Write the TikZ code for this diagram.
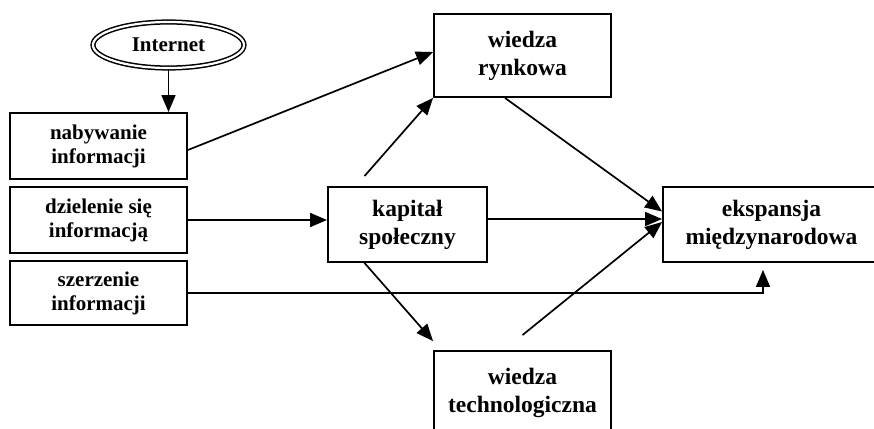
\documentclass[tikz,border=0pt]{standalone}
\usepackage{fontspec}
\setmainfont{Liberation Serif}
\usetikzlibrary{arrows.meta,shapes.geometric}
\begin{document}
\begin{tikzpicture}[x=1pt,y=-1pt,
  box/.style={draw,line width=1.9pt,rectangle,align=center,inner sep=0pt,
    font=\bfseries\fontsize{23.5}{28}\selectfont},
  smallbox/.style={box,font=\bfseries\fontsize{21}{24}\selectfont},
  conn/.style={line width=1.7pt,-{Triangle[length=17pt,width=14pt]}}]
\useasboundingbox (0,0) rectangle (874,428);

% source node
\node[draw,ellipse,line width=1.5pt,double,double distance=2.2pt,inner sep=0pt,
  minimum width=151pt,minimum height=46pt,
  font=\bfseries\fontsize{21}{24}\selectfont] (inet) at (168.5,45) {Internet};

% information activities
\node[smallbox,minimum width=177pt,minimum height=66pt] (nab) at (98.5,146) {nabywanie\\informacji};
\node[smallbox,minimum width=177pt,minimum height=66pt] (dz) at (98.5,220) {dzielenie się\\informacją};
\node[smallbox,minimum width=177pt,minimum height=64pt] (sz) at (98.5,293) {szerzenie\\informacji};

% central and outcome nodes
\node[box,minimum width=159pt,minimum height=75pt] (kap) at (407.5,224.5) {kapitał\\społeczny};
\node[box,minimum width=177pt,minimum height=83pt] (wr) at (522.5,55.5) {wiedza\\rynkowa};
\node[box,minimum width=177pt,minimum height=83pt] (wt) at (522.5,392.5) {wiedza\\technologiczna};
\node[box,minimum width=217pt,minimum height=75pt] (ek) at (771.5,224.5) {ekspansja\\międzynarodowa};

% free ends of two connectors
\coordinate (kapup) at ([xshift=-43pt,yshift=10pt]kap.north);
\coordinate (wtup) at ([yshift=15pt]wt.north);

% connectors
\draw[conn] (inet.south) -- (inet.south |- nab.north);
\draw[conn] ([yshift=-4pt]nab.east) -- ([yshift=3.5pt]wr.west);
\draw[conn] (kapup) -- (wr.south west);
\draw[conn] (dz.east) -- (dz.east -| kap.west);
\draw[conn] ([yshift=5.5pt]kap.east) -- ([yshift=5.5pt]ek.west);
\draw[conn] ([xshift=-17.5pt]wr.south) -- ([yshift=13pt]ek.west);
\draw[conn] (wtup) -- ([yshift=2.5pt]ek.west);
\draw[conn] ([xshift=-43pt]kap.south) -- ([yshift=9pt]wt.north west);
\draw[conn] (sz.east) -| ([xshift=-8.5pt,yshift=-7pt]ek.south);
\end{tikzpicture}
\end{document}
